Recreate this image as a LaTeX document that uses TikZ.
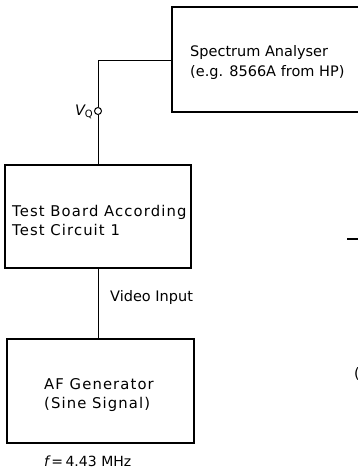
\documentclass[tikz,border=0pt]{standalone}
\usepackage{fontspec}
\setmainfont{DejaVu Sans}
\begin{document}
\begin{tikzpicture}[x=1pt,y=-1pt,
  box/.style={draw,line width=1.3pt},
  lbl/.style={font=\fontsize{14.5}{20}\selectfont,align=left,inner sep=0pt},
  big/.style={font=\fontsize{14.8}{19}\selectfont\addfontfeatures{LetterSpace=7.5}},
  wire/.style={line width=1pt}]
\useasboundingbox (0,0) rectangle (358,469);
\begin{scope}
\clip (0,0) rectangle (358,469);
\draw[box] (172,7) rectangle (380,112);
\coordinate (sa) at (172,60);
\node[lbl,anchor=west] (satext) at (190,62) {Spectrum Analyser\\(e.g. 8566A from HP)};
\node[lbl,anchor=west] (frag) at (354,374) {(};
\end{scope}
\node[draw,box] (tb) at (98,216.5) [minimum width=186pt,minimum height=103pt,inner sep=0pt] {};
\node[lbl,big,anchor=west] (tbtext) at (12,220) {Test Board According\\Test Circuit 1};
\node[draw,box] (af) at (100.5,391) [minimum width=187pt,minimum height=104pt,inner sep=0pt] {};
\node[lbl,big,anchor=west] (aftext) at (44,395) {AF Generator\\(Sine Signal)};
\node[circle,draw,line width=1pt,minimum size=7pt,inner sep=0pt] (vq) at (98,111) {};
\node[lbl,anchor=east] (vqlbl) at (93,112) {\itshape V\raisebox{-2pt}{\upshape\fontsize{10}{10}\selectfont Q}};
\coordinate (c1) at (98,60);
\draw[wire] (sa) -- (c1) -- (vq.north);
\draw[wire] (vq.south) -- (tb.north -| vq.south);
\draw[wire] (tb.south -| vq.south) -- (af.north -| vq.south);
\node[lbl,anchor=west] (vid) at (110,297) {Video Input};
\node[lbl,anchor=base west,text depth=0pt,font=\fontsize{14}{14}\selectfont] (freq) at (44,466) {{\itshape f}\,=\,4.43\,\,MHz};
\coordinate (d1) at (347,239);
\coordinate (d2) at (358,239);
\draw[line width=1.5pt] (d1) -- (d2);
\end{tikzpicture}
\end{document}
